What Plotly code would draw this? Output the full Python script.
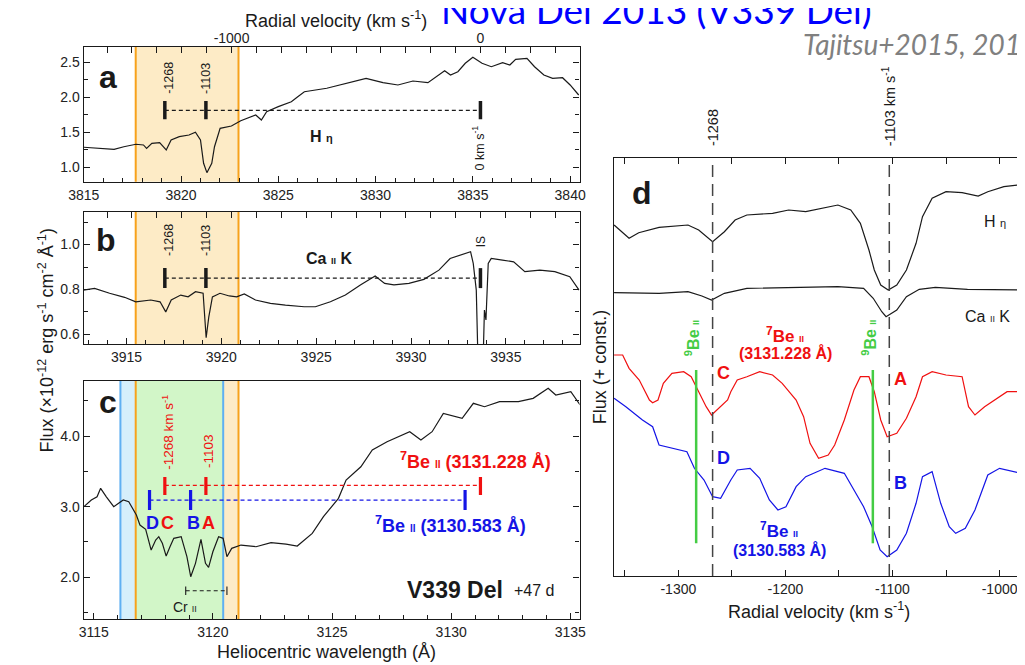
import plotly.graph_objects as go

# ---------------- constants / data ----------------
C_KMS = 299792.458
HETA_REST = 3835.39      # H eta rest wavelength (A)
CAK_REST = 3933.66       # Ca II K rest wavelength (A)
BE7_RED = 3131.228       # 7Be II
BE7_BLUE = 3130.583      # 7Be II
BE9_RED = 3131.067       # 9Be II counterpart of 3131.228

COMPONENT_VELS = [-1268, -1103]          # km/s
BAND_VELS = [-1385, -972]                # shaded velocity window
VEL_WINDOW = [-1594, 398]                # common velocity window of panels a-c
VEL_TICKS = list(range(-1500, 301, 100))
VEL_TICK_LABELS = [-1000, 0]
CR2_LINES = [3118.86, 3120.59]

# panel a : H eta
a_wave = [3815.0, 3815.72, 3816.56, 3817.06, 3817.68, 3818.07, 3818.23, 3818.5, 3818.90, 3819.24,
          3819.49, 3819.91, 3820.41, 3820.74, 3821.0, 3821.16, 3821.33, 3821.58, 3821.72, 3822.01,
          3822.59, 3823.07, 3823.84, 3824.13, 3824.4, 3825.0, 3825.67, 3826.0, 3826.34, 3827.49,
          3828.84, 3829.51, 3830.38, 3831.15, 3831.92, 3832.69, 3833.55, 3833.85, 3834.23, 3834.61,
          3835.0, 3835.47, 3835.95, 3836.53, 3836.9, 3837.2, 3837.78, 3838.17, 3838.65, 3839.1,
          3839.61, 3840.0, 3840.44]
a_flux = [1.286, 1.271, 1.257, 1.294, 1.329, 1.319, 1.271, 1.343, 1.351, 1.247,
          1.39, 1.437, 1.461, 1.50, 1.39, 1.057, 0.923, 1.057, 1.294, 1.557,
          1.59, 1.666, 1.747, 1.676, 1.794, 1.866, 1.937, 2.009, 2.08, 2.129,
          2.223, 2.271, 2.209, 2.176, 2.233, 2.209, 2.38, 2.319, 2.366, 2.486,
          2.571, 2.486, 2.437, 2.494, 2.461, 2.543, 2.557, 2.437, 2.319, 2.271,
          2.28, 2.176, 2.033]

# panel b : Ca II K
b_wave = [3912.73, 3913.32, 3914.11, 3914.9, 3915.49, 3916.28, 3916.77, 3917.07, 3917.36, 3917.86,
          3918.25, 3918.64, 3919.04, 3919.2, 3919.34, 3919.53, 3919.93, 3920.42, 3920.81, 3921.21,
          3921.8, 3922.59, 3923.38, 3924.37, 3924.96, 3925.75, 3926.54, 3927.33, 3928.11, 3928.61,
          3929.1, 3929.89, 3930.68, 3931.47, 3932.06, 3932.65, 3933.14, 3933.28, 3933.44, 3933.54,
          3933.79, 3933.87, 3933.95, 3934.07, 3934.23, 3934.82, 3935.41, 3936.0, 3936.79, 3937.58,
          3938.37, 3938.86]
b_flux = [0.797, 0.805, 0.783, 0.765, 0.745, 0.753, 0.745, 0.70, 0.753, 0.775,
          0.767, 0.79, 0.783, 0.585, 0.678, 0.767, 0.783, 0.771, 0.767, 0.78,
          0.753, 0.738, 0.73, 0.723, 0.723, 0.745, 0.775, 0.82, 0.86, 0.827,
          0.82, 0.827, 0.845, 0.886, 0.938, 0.953, 0.968, 0.916, 0.797, 0.45,
          0.45, 0.708, 0.664, 0.916, 0.938, 0.931, 0.923, 0.879, 0.886, 0.879,
          0.857, 0.797]

# panel c : 7Be II region
c_wave = [3114.59, 3114.9, 3115.14, 3115.29, 3115.53, 3115.84, 3116.24, 3116.47, 3116.79, 3116.94,
          3117.18, 3117.41, 3117.6, 3117.73, 3117.88, 3118.04, 3118.2, 3118.36, 3118.67, 3118.91,
          3119.07, 3119.27, 3119.5, 3119.69, 3119.82, 3120.0, 3120.24, 3120.43, 3120.59, 3120.79,
          3121.18, 3121.81, 3122.44, 3123.07, 3123.54, 3124.17, 3124.64, 3125.27, 3125.59, 3126.21,
          3126.69, 3127.31, 3128.26, 3128.73, 3129.2, 3129.67, 3130.46, 3130.93, 3131.4, 3132.03,
          3132.82, 3133.44, 3134.07, 3134.39, 3135.02, 3135.41]
c_flux = [3.0, 3.094, 3.14, 3.26, 3.14, 3.0, 3.094, 3.07, 2.882, 2.74,
          2.68, 2.386, 2.528, 2.575, 2.481, 2.301, 2.433, 2.552, 2.575, 2.292,
          2.009, 2.198, 2.538, 2.198, 2.141, 2.362, 2.575, 2.552, 2.292, 2.41,
          2.457, 2.433, 2.49, 2.471, 2.443, 2.622, 2.858, 3.118, 3.377, 3.565,
          3.802, 3.919, 4.061, 3.943, 4.061, 4.321, 4.251, 4.463, 4.415, 4.486,
          4.486, 4.533, 4.675, 4.58, 4.627, 4.439]

# panel d : velocity profiles (flux + const., arbitrary units)
d_heta_vel = [-1360, -1355, -1346, -1337, -1318, -1291, -1281, -1268, -1257, -1247,
              -1236, -1212, -1197, -1181, -1166, -1151, -1139, -1130, -1122, -1117,
              -1111, -1104, -1096, -1087, -1078, -1072, -1063, -1050, -1035, -1020,
              -1011, -996, -982, -975]
d_heta = [351, 346, 337.7, 343.3, 348.7, 351, 346, 334.3, 344.3, 356,
          361, 362.7, 366, 364.3, 367.7, 371, 366, 352.7, 326, 306,
          291, 286, 291, 306, 332.7, 359.3, 377.7, 384.3, 383.3, 380,
          384.3, 389.3, 391, 392]
d_cak_vel = [-1360, -1318, -1291, -1278, -1269, -1257, -1236, -1197, -1151, -1127,
             -1118, -1110, -1106, -1096, -1087, -1075, -1060, -1030, -982, -975]
d_cak = [283.3, 282.7, 284.3, 280, 276, 282.7, 287.7, 288.7, 289.3, 287.7,
         277.7, 264.3, 259.3, 266, 279.3, 286.7, 288.7, 286.7, 286, 286]
d_red_vel = [-1360, -1352, -1346, -1336.5, -1327, -1324, -1319, -1314, -1306, -1295,
             -1288, -1282, -1274, -1269, -1264, -1254, -1251, -1245, -1236, -1224,
             -1212, -1203, -1190, -1183, -1177, -1169, -1160, -1154, -1145, -1136,
             -1130, -1122, -1117, -1111, -1105, -1096, -1087, -1078, -1072, -1063,
             -1050, -1035, -1029, -1023, -1014, -1002, -993, -982, -975]
d_red = [221, 221, 207.7, 196, 176, 173.3, 176, 192.7, 202.7, 204.3,
         199.3, 186, 169.3, 161, 166, 176, 184.3, 196, 199.3, 204.3,
         201, 192.7, 176, 159.3, 132.7, 117.7, 121, 131, 156, 186,
         199.3, 199.3, 184.3, 156, 139.3, 142.7, 157.7, 179.3, 199.3, 204.3,
         201, 199.3, 169.3, 161, 169.3, 177.7, 184.3, 184.3, 186]
d_blue_vel = [-1360, -1349, -1333.5, -1324, -1318, -1306, -1292, -1285, -1276, -1268,
              -1260.5, -1251, -1245, -1233, -1224, -1215, -1207, -1199.5, -1190, -1181,
              -1163, -1145, -1136, -1127, -1119, -1111.6, -1105, -1096, -1087, -1078,
              -1072, -1063, -1055, -1047, -1041, -1032, -1023, -1011, -1000, -982, -975]
d_blue = [177.7, 169.3, 156, 149.3, 131, 127.7, 124.3, 107.7, 96, 79.3,
          77.7, 96, 106, 107.7, 97.7, 76, 66, 69.3, 89.3, 99.3,
          107.7, 102.7, 86, 69.3, 49.3, 26, 19.3, 26, 42.7, 72.7,
          99.3, 104.3, 72.7, 49.3, 42.7, 47.7, 66, 101, 107.7, 103.3, 104]
D_VEL_RANGE = [-1360.3, -974.4]
D_VEL_TICKS = list(range(-1350, -999, 50))

# ---------------- styles ----------------
FIG_W, FIG_H = 1025, 665
PAGE_OFFSET = 8          # default body margin of the html page
FONT = "Liberation Sans, Arial, sans-serif"
INK = "#1a1a1a"
ORANGE = "#f7a21b"
ORANGE_FILL = "#fdebc6"
BLUE_LINE = "#5fb0f2"
BLUE_FILL = "#d5effb"
GREEN_FILL = "#d2f6c8"
RED = "#f01010"
BLUE = "#1414e6"
GREEN = "#44cc44"


def doppler(rest, v):
    return rest * (1 + v / C_KMS)


def to_vel(rest, lam):
    return (lam / rest - 1) * C_KMS


def X(p):
    return (p - PAGE_OFFSET) / FIG_W


def Y(p):
    return 1 - (p - PAGE_OFFSET) / FIG_H


fig = go.Figure()


def line(x, y, xa, ya, color=INK, width=1.2, dash=None):
    fig.add_trace(go.Scatter(x=x, y=y, xaxis=xa, yaxis=ya, mode="lines",
                             line=dict(color=color, width=width, dash=dash),
                             hoverinfo="skip", showlegend=False))


def vband(xref, yref, x0, x1, color):
    fig.add_shape(type="rect", xref=xref, yref=yref, x0=x0, x1=x1, y0=0, y1=1,
                  fillcolor=color, line=dict(width=0), layer="below")


def vline(xref, yref, x, color, width=2, dash=None, layer="below"):
    fig.add_shape(type="line", xref=xref, yref=yref, x0=x, x1=x, y0=0, y1=1,
                  line=dict(color=color, width=width, dash=dash), layer=layer)


def ann(text, x, y, xref, yref, size=14, color=INK, angle=0, xanchor="center",
        yanchor="middle", xshift=0, yshift=0, family=FONT):
    fig.add_annotation(text=text, x=x, y=y, xref=xref, yref=yref, showarrow=False,
                       font=dict(size=size, color=color, family=family), textangle=angle,
                       xanchor=xanchor, yanchor=yanchor, xshift=xshift, yshift=yshift)


# ---------------- panel a ----------------
a_band = [doppler(HETA_REST, v) for v in BAND_VELS]
vband("x", "y domain", a_band[0], a_band[1], ORANGE_FILL)
for w in a_band:
    vline("x", "y domain", w, ORANGE)
line(a_wave, a_flux, "x", "y")
a_marks = [doppler(HETA_REST, v) for v in COMPONENT_VELS + [0]]
line([a_marks[0], a_marks[-1]], [1.814, 1.814], "x", "y", dash="4px,3px", width=1.2)
for w in a_marks:
    line([w, w], [1.686, 1.946], "x", "y", width=3.5)
ann("<b>a</b>", 3816.26, 2.294, "x", "y", size=32)
ann("-1268", a_marks[0], 2.276, "x", "y", size=12.5, angle=-90, xshift=4)
ann("-1103", a_marks[1], 2.276, "x", "y", size=12.5, angle=-90)
ann("0 km s<sup>-1</sup>", a_marks[2], 1.276, "x", "y", size=12.5, angle=-90, xshift=-2)
ann("<b>H</b> <span style='font-size:11px'><b>η</b></span>", 3827.21, 1.433, "x", "y", size=16)

# ---------------- panel b ----------------
b_band = [doppler(CAK_REST, v) for v in BAND_VELS]
vband("x2", "y2 domain", b_band[0], b_band[1], ORANGE_FILL)
for w in b_band:
    vline("x2", "y2 domain", w, ORANGE)
line(b_wave, b_flux, "x2", "y2")
b_marks = [doppler(CAK_REST, v) for v in COMPONENT_VELS + [0]]
line([b_marks[0], b_marks[-1]], [0.85, 0.85], "x2", "y2", dash="4px,3px", width=1.2)
for w in b_marks:
    line([w, w], [0.806, 0.895], "x2", "y2", width=3.5)
ann("<b>b</b>", 3913.92, 1.02, "x2", "y2", size=32)
ann("-1268", b_marks[0], 1.02, "x2", "y2", size=12.5, angle=-90, xshift=4)
ann("-1103", b_marks[1], 1.02, "x2", "y2", size=12.5, angle=-90)
ann("IS", b_marks[2], 1.012, "x2", "y2", size=12, angle=-90)
ann("<b>Ca</b> <span style='font-size:9px'><b>II</b></span> <b>K</b>", 3925.67, 0.94, "x2", "y2", size=16)

# ---------------- panel c ----------------
red_band = [doppler(BE7_RED, v) for v in BAND_VELS]
blue_band = [doppler(BE7_BLUE, v) for v in BAND_VELS]
vband("x3", "y3 domain", blue_band[0], red_band[0], BLUE_FILL)
vband("x3", "y3 domain", red_band[0], blue_band[1], GREEN_FILL)
vband("x3", "y3 domain", blue_band[1], red_band[1], ORANGE_FILL)
for w in blue_band:
    vline("x3", "y3 domain", w, BLUE_LINE)
for w in red_band:
    vline("x3", "y3 domain", w, ORANGE)
line(c_wave, c_flux, "x3", "y3")
c_red = [doppler(BE7_RED, v) for v in COMPONENT_VELS + [0]]
c_blue = [doppler(BE7_BLUE, v) for v in COMPONENT_VELS + [0]]
line([c_red[0], c_red[-1]], [3.30, 3.30], "x3", "y3", color=RED, dash="4px,3px", width=1.2)
line([c_blue[0], c_blue[-1]], [3.094, 3.094], "x3", "y3", color=BLUE, dash="4px,3px", width=1.2)
for w in c_red:
    line([w, w], [3.165, 3.42], "x3", "y3", color=RED, width=3.2)
for w in c_blue:
    line([w, w], [2.953, 3.236], "x3", "y3", color=BLUE, width=3.2)
line([CR2_LINES[0], CR2_LINES[1]], [1.81, 1.81], "x3", "y3", dash="4px,3px", width=1.1)
for w in CR2_LINES:
    line([w, w], [1.75, 1.87], "x3", "y3", width=1.1)
ann("<b>c</b>", 3115.62, 4.486, "x3", "y3", size=32)
ann("-1268 km s<sup>-1</sup>", c_red[0], 4.057, "x3", "y3", size=13.5, angle=-90, color=RED, xshift=3)
ann("-1103", c_red[1], 3.788, "x3", "y3", size=13.5, angle=-90, color=RED, xshift=2)
ann("<b><sup>7</sup>Be <span style='font-size:10px'>II</span> (3131.228 Å)</b>", 3131.02, 3.66,
    "x3", "y3", size=18, color=RED)
ann("<b><sup>7</sup>Be <span style='font-size:10px'>II</span> (3130.583 Å)</b>", 3129.99, 2.754,
    "x3", "y3", size=18, color=BLUE)
for txt, w, col in [("D", c_blue[0], BLUE), ("C", c_red[0], RED), ("B", c_blue[1], BLUE), ("A", c_red[1], RED)]:
    ann(f"<b>{txt}</b>", w, 2.773, "x3", "y3", size=18, color=col, xshift=3)
ann("<b>V339 Del</b>", 3130.15, 1.82, "x3", "y3", size=23)
ann("+47 d", 3133.48, 1.82, "x3", "y3", size=16)
ann("Cr <span style='font-size:9px'>II</span>", 3118.82, 1.58, "x3", "y3", size=14)

# ---------------- panel d ----------------
for v in COMPONENT_VELS:
    vline("x4", "y4 domain", v, "#444444", width=1.5, dash="12px,7px", layer="above")
be9_vels = [to_vel(BE7_RED, doppler(BE9_RED, v)) for v in COMPONENT_VELS]
line(d_heta_vel, d_heta, "x4", "y4")
line(d_cak_vel, d_cak, "x4", "y4")
line(d_red_vel, d_red, "x4", "y4", color=RED)
line(d_blue_vel, d_blue, "x4", "y4", color=BLUE)
for v in be9_vels:
    line([v, v], [32.7, 206], "x4", "y4", color=GREEN, width=2.5)
    ann("<b><sup>9</sup>Be <span style='font-size:9px'>II</span></b>", v, 238, "x4", "y4",
        size=16, color=GREEN, angle=-90, xshift=-4)
ann("<b>d</b>", -1333.5, 383, "x4", "y4", size=32)
ann("-1268", COMPONENT_VELS[0], Y(127.5), "x4", "paper", size=14.5, angle=-90)
ann("-1103 km s<sup>-1</sup>", COMPONENT_VELS[1], Y(106), "x4", "paper", size=14.5, angle=-90)
ann("H <span style='font-size:11px'>η</span>", -1004.6, 355, "x4", "y4", size=16)
ann("Ca <span style='font-size:9px'>II</span> K", -1011, 260, "x4", "y4", size=16)
ann("<b><sup>7</sup>Be <span style='font-size:9px'>II</span></b>", -1200.2, 241, "x4", "y4", size=17, color=RED)
ann("<b>(3131.228 Å)</b>", -1200.2, 223, "x4", "y4", size=16, color=RED)
ann("<b><sup>7</sup>Be <span style='font-size:9px'>II</span></b>", -1205.7, 46, "x4", "y4", size=17, color=BLUE)
ann("<b>(3130.583 Å)</b>", -1205.7, 26, "x4", "y4", size=16, color=BLUE)
ann("<b>C</b>", -1257.7, 203, "x4", "y4", size=18, color=RED)
ann("<b>A</b>", -1092.4, 197, "x4", "y4", size=18, color=RED)
ann("<b>D</b>", -1257.7, 118, "x4", "y4", size=18, color=BLUE)
ann("<b>B</b>", -1092.4, 93, "x4", "y4", size=18, color=BLUE)

# invisible anchors so that the velocity (top) axes of panels a and b are drawn
fig.add_trace(go.Scatter(x=VEL_WINDOW, y=[1.5, 1.5], xaxis="x5", yaxis="y", mode="markers",
                         marker=dict(opacity=0), hoverinfo="skip", showlegend=False))
fig.add_trace(go.Scatter(x=VEL_WINDOW, y=[0.8, 0.8], xaxis="x6", yaxis="y2", mode="markers",
                         marker=dict(opacity=0), hoverinfo="skip", showlegend=False))

# ---------------- titles ----------------
ann("Radial velocity (km s<sup>-1</sup>)", X(327), Y(20), "paper", "paper", size=18)
ann("Heliocentric wavelength (Å)", X(317), Y(652), "paper", "paper", size=18)
ann("Radial velocity (km s<sup>-1</sup>)", X(820), Y(610), "paper", "paper", size=18)
ann("Flux (×10<sup>-12</sup> erg s<sup>-1</sup> cm<sup>-2</sup> Å<sup>-1</sup>)", X(30), Y(341),
    "paper", "paper", size=18, angle=-90)
ann("Flux (+ const.)", X(597), Y(367), "paper", "paper", size=18, angle=-90)
ann("Nova Del 2013 (V339 Del)", X(432), Y(10), "paper", "paper", size=37, color="#0000ff",
    xanchor="left", family="Lato, Liberation Sans, sans-serif")
ann("<i>Tajitsu+2015, 2016</i>", X(802), Y(44), "paper", "paper", size=28, color="#808080",
    xanchor="left", family="Lato, Liberation Sans, sans-serif")

# ---------------- axes ----------------
TICKFONT = dict(family=FONT, size=14, color="#222222")


def base_axis(**kw):
    d = dict(showline=True, linecolor=INK, linewidth=1.2, ticks="inside", ticklen=6,
             tickcolor=INK, tickwidth=1.1, showgrid=False, zeroline=False, tickfont=TICKFONT)
    d.update(kw)
    return d


x_dom = [X(69), X(575.7)]
vel_text = [str(v) if v in VEL_TICK_LABELS else "" for v in VEL_TICKS]
minor_w = dict(dtick=1, tick0=0, ticks="inside", ticklen=4, tickcolor=INK)

fig.update_layout(
    width=FIG_W, height=FIG_H, margin=dict(l=0, r=0, t=0, b=0),
    paper_bgcolor="white", plot_bgcolor="white", font=dict(family=FONT, color=INK),
    showlegend=False,
    xaxis=base_axis(domain=x_dom, anchor="y", mirror=True, tickformat="d", dtick=5, tick0=0,
                    range=[doppler(HETA_REST, VEL_WINDOW[0]), doppler(HETA_REST, VEL_WINDOW[1])],
                    minor=minor_w),
    yaxis=base_axis(domain=[Y(181.7), Y(46.7)], anchor="x", mirror="ticks", range=[0.794, 2.723],
                    dtick=0.5, tick0=0, tickformat=".1f",
                    minor=dict(dtick=0.25, tick0=0, ticks="inside", ticklen=4, tickcolor=INK)),
    xaxis2=base_axis(domain=x_dom, anchor="y2", mirror=True, tickformat="d", dtick=5, tick0=0,
                     range=[doppler(CAK_REST, VEL_WINDOW[0]), doppler(CAK_REST, VEL_WINDOW[1])],
                     minor=minor_w),
    yaxis2=base_axis(domain=[Y(344), Y(212)], anchor="x2", mirror="ticks", range=[0.557, 1.145],
                     dtick=0.2, tick0=0, tickformat=".1f",
                     minor=dict(dtick=0.1, tick0=0, ticks="inside", ticklen=4, tickcolor=INK)),
    xaxis3=base_axis(domain=x_dom, anchor="y3", mirror=True, tickformat="d", dtick=5, tick0=0,
                     range=[doppler(BE7_RED, VEL_WINDOW[0]), doppler(BE7_RED, VEL_WINDOW[1])],
                     minor=minor_w),
    yaxis3=base_axis(domain=[Y(619), Y(380.7)], anchor="x3", mirror="ticks", range=[1.41, 4.783],
                     dtick=1, tick0=0, tickformat=".1f",
                     minor=dict(dtick=0.5, tick0=0, ticks="inside", ticklen=4, tickcolor=INK)),
    xaxis4=base_axis(domain=[X(610.7), 1.0], anchor="y4", mirror="ticks", range=D_VEL_RANGE,
                     tickvals=D_VEL_TICKS,
                     ticktext=[str(v) if v % 100 == 0 else "" for v in D_VEL_TICKS]),
    yaxis4=base_axis(domain=[Y(576), Y(158.3)], anchor="x4", mirror=False, range=[0, 417.7],
                     ticks="", showticklabels=False),
    xaxis5=base_axis(overlaying="x", anchor="y", side="top", range=VEL_WINDOW, showline=False,
                     tickvals=VEL_TICKS, ticktext=vel_text),
    xaxis6=base_axis(overlaying="x2", anchor="y2", side="top", range=VEL_WINDOW, showline=False,
                     tickvals=VEL_TICKS, showticklabels=False),
)

fig.write_html("out.html")
